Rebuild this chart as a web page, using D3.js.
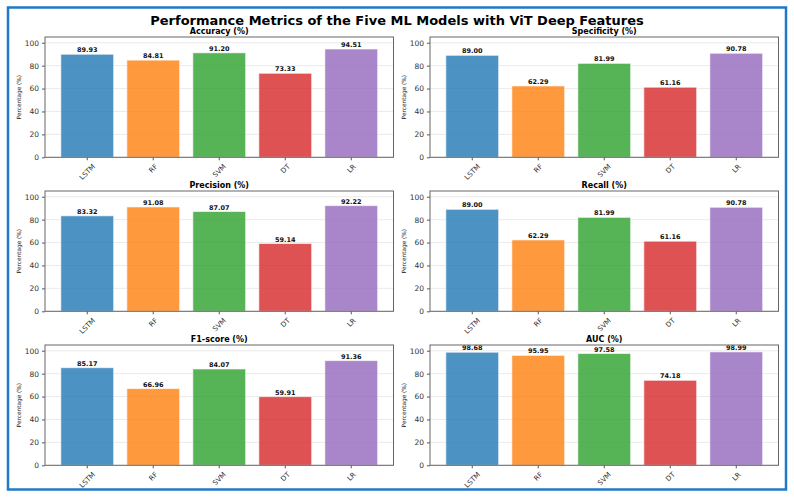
<!DOCTYPE html>
<html>
<head>
<meta charset="utf-8">
<script src="https://cdn.jsdelivr.net/npm/d3@7"></script>
<style>
  body { margin: 0; background: #fff; }
  svg { font-family: "DejaVu Sans", sans-serif; }
</style>
</head>
<body>
<svg id="chart" width="794" height="497"></svg>
<script>
// data
var models = ["LSTM", "RF", "SVM", "DT", "LR"];
var metricNames = ["Accuracy (%)", "Specificity (%)", "Precision (%)", "Recall (%)", "F1-score (%)", "AUC (%)"];
var accuracy = [89.93, 84.81, 91.20, 73.33, 94.51];
var specificity = [89.00, 62.29, 81.99, 61.16, 90.78];
var precision = [83.32, 91.08, 87.07, 59.14, 92.22];
var recall = [89.00, 62.29, 81.99, 61.16, 90.78];
var f1score = [85.17, 66.96, 84.07, 59.91, 91.36];
var auc = [98.68, 95.95, 97.58, 74.18, 98.99];
var yTicks = [0, 20, 40, 60, 80, 100];
var colors = ["#1f77b4", "#ff7f0e", "#2ca02c", "#d62728", "#9467bd"];

var allSeries = [accuracy, specificity, precision, recall, f1score, auc];

var svg = d3.select("#chart");

// frame
svg.append("rect")
  .attr("x", 8).attr("y", 7.5)
  .attr("width", 778).attr("height", 482)
  .attr("fill", "none")
  .attr("stroke", "#1f78c8")
  .attr("stroke-width", 2.5);

svg.append("text")
  .attr("x", 397).attr("y", 24.5)
  .attr("text-anchor", "middle")
  .attr("font-size", "13px")
  .attr("font-weight", "bold")
  .text("Performance Metrics of the Five ML Models with ViT Deep Features");

var colLeft = [45, 430];
var rowTop = [37, 191, 345];
var w = 348.5, h = 120.3;

allSeries.forEach(function(vals, i) {
  var col = i % 2, row = Math.floor(i / 2);
  var g = svg.append("g")
    .attr("transform", "translate(" + colLeft[col] + "," + rowTop[row] + ")");

  var x = d3.scaleBand().domain(models).range([0, w])
    .paddingInner(0.2).paddingOuter(0.24);
  var y = d3.scaleLinear().domain([0, 105]).range([h, 0]);

  // grid
  g.selectAll(".grid").data(yTicks).enter().append("line")
    .attr("x1", 0).attr("x2", w)
    .attr("y1", function(d) { return y(d); })
    .attr("y2", function(d) { return y(d); })
    .attr("stroke", "#e6e6e6")
    .attr("stroke-width", 0.8);

  g.selectAll(".bar").data(vals).enter().append("rect")
    .attr("x", function(d, j) { return x(models[j]); })
    .attr("width", x.bandwidth())
    .attr("y", function(d) { return y(d); })
    .attr("height", function(d) { return y(0) - y(d); })
    .attr("fill", function(d, j) { return colors[j]; })
    .attr("fill-opacity", 0.8)
    .attr("stroke", "#fff")
    .attr("stroke-opacity", 0.6)
    .attr("stroke-width", 1);

  g.selectAll(".val").data(vals).enter().append("text")
    .attr("x", function(d, j) { return x(models[j]) + x.bandwidth() / 2; })
    .attr("y", function(d) { return y(d) - 2; })
    .attr("text-anchor", "middle")
    .attr("font-size", "6.5px")
    .attr("font-weight", "bold")
    .attr("fill", "#111")
    .text(function(d) { return d.toFixed(2); });

  // y axis
  var ya = g.append("g").call(d3.axisLeft(y).tickValues(yTicks).tickSize(3).tickPadding(3));
  ya.select(".domain").remove();
  ya.selectAll("text").attr("font-size", "7.5px").attr("fill", "#333").attr("font-family", "DejaVu Sans");
  ya.selectAll("line").attr("stroke", "#555");

  // x axis
  var xa = g.append("g").attr("transform", "translate(0," + h + ")")
    .call(d3.axisBottom(x).tickSize(3).tickPadding(0));
  xa.select(".domain").remove();
  xa.selectAll("line").attr("stroke", "#555");
  xa.selectAll("text")
    .attr("font-size", "7px").attr("fill", "#333").attr("font-family", "DejaVu Sans")
    .attr("dy", null)
    .each(function() {
      var t = d3.select(this);
      var tw = this.getComputedTextLength();
      var bh = (tw + 7) * Math.SQRT1_2;
      t.attr("text-anchor", "middle")
        .attr("y", 5.5 + bh / 2)
        .attr("dy", "0.35em")
        .attr("transform", "rotate(-45,0," + (5.5 + bh / 2) + ")");
    });

  // frame
  g.append("rect")
    .attr("width", w).attr("height", h)
    .attr("fill", "none")
    .attr("stroke", "#666")
    .attr("stroke-width", 1);

  g.append("text")
    .attr("x", w / 2).attr("y", -2.8)
    .attr("text-anchor", "middle")
    .attr("font-size", "8px")
    .attr("font-weight", "bold")
    .text(metricNames[i]);

  g.append("text")
    .attr("transform", "translate(-24," + (h / 2) + ") rotate(-90)")
    .attr("text-anchor", "middle")
    .attr("font-size", "5.8px")
    .attr("fill", "#222")
    .text("Percentage (%)");
});
</script>
</body>
</html>
